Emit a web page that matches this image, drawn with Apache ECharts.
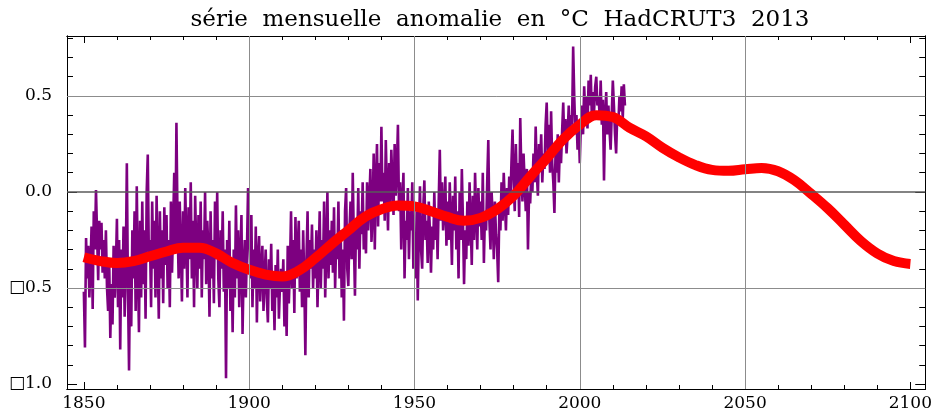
<!DOCTYPE html>
<html>
<head>
<meta charset="utf-8">
<script src="https://cdn.jsdelivr.net/npm/echarts@6/dist/echarts.min.js"></script>
<style>html,body{margin:0;padding:0;background:#fff}#c{width:935px;height:412px}</style>
</head>
<body>
<div id="c"></div>
<script>
// ---- data ----
const titleText = 'série  mensuelle  anomalie  en  °C  HadCRUT3  2013';
const monthlyStartYear = 1850;
const samplesPerYear = 3;
// HadCRUT3 anomaly (°C), 1850 .. 2013, 3 samples per year
const monthlyAnomaly = [
 -0.52,-0.81,-0.24,-0.45,-0.28,-0.55,-0.38,-0.18,-0.61,-0.10,-0.30,0.01,-0.22,-0.46,-0.15,
 -0.30,-0.16,-0.42,-0.25,-0.45,-0.20,-0.50,-0.62,-0.35,-0.76,-0.48,-0.69,-0.28,-0.55,-0.40,
 -0.14,-0.60,-0.25,-0.82,-0.30,-0.55,-0.18,-0.65,-0.40,0.15,-0.50,-0.93,-0.35,-0.70,-0.20,
 -0.45,-0.10,-0.62,0.03,-0.40,-0.73,-0.15,-0.55,-0.05,-0.48,-0.20,-0.66,0.00,0.195,-0.35,
 -0.25,-0.60,-0.05,-0.40,-0.15,-0.55,-0.02,-0.35,-0.66,-0.10,-0.45,-0.20,-0.58,-0.08,-0.38,
 -0.12,-0.50,-0.25,-0.60,-0.05,-0.42,-0.18,0.10,-0.30,0.36,-0.15,-0.45,-0.05,-0.30,-0.57,
 -0.10,-0.40,0.02,-0.25,-0.55,-0.08,-0.35,0.05,-0.45,-0.15,-0.60,-0.02,-0.30,-0.50,-0.12,
 -0.40,-0.05,-0.55,-0.20,-0.35,0.00,-0.48,-0.15,-0.30,-0.65,-0.10,-0.45,-0.25,-0.58,-0.05,
 -0.35,0.00,-0.45,-0.60,-0.20,-0.40,-0.10,-0.52,-0.30,-0.97,-0.25,-0.50,-0.15,-0.62,-0.35,
 -0.73,-0.30,-0.55,-0.07,-0.45,-0.20,-0.60,-0.35,-0.12,-0.74,-0.40,-0.25,-0.55,-0.30,0.02,
 -0.20,-0.45,-0.12,-0.60,-0.30,-0.50,-0.18,-0.68,-0.35,-0.23,-0.57,-0.40,-0.28,-0.62,-0.45,
 -0.30,-0.55,-0.68,-0.35,-0.50,-0.27,-0.62,-0.45,-0.72,-0.38,-0.55,-0.30,-0.66,-0.48,-0.40,
 -0.52,-0.35,-0.70,-0.45,-0.75,-0.28,-0.58,-0.40,-0.10,-0.50,-0.25,-0.63,-0.13,-0.45,-0.30,
 -0.15,-0.52,-0.30,-0.60,-0.20,-0.45,-0.85,-0.35,-0.10,-0.55,-0.25,-0.40,-0.17,-0.50,-0.30,
 -0.45,-0.20,-0.60,-0.35,-0.10,-0.50,-0.25,-0.40,-0.05,-0.55,-0.30,0.00,-0.45,-0.20,-0.38,
 -0.15,-0.42,-0.08,-0.50,-0.25,-0.35,-0.05,-0.45,-0.20,-0.55,-0.30,-0.67,-0.10,0.02,-0.40,
 -0.49,-0.20,-0.05,-0.35,0.10,-0.25,-0.54,-0.15,-0.30,0.02,-0.40,-0.10,-0.22,0.05,-0.30,
 -0.15,-0.32,0.05,-0.20,-0.05,0.12,-0.26,-0.10,0.20,-0.30,0.05,0.25,-0.18,0.15,-0.05,
 0.34,-0.05,0.10,-0.15,0.27,0.00,-0.20,0.15,-0.08,0.22,0.05,-0.12,0.25,-0.02,0.12,
 0.35,-0.10,0.05,-0.30,-0.05,0.10,-0.45,-0.15,-0.25,0.02,-0.35,-0.10,-0.20,0.05,-0.40,
 -0.25,-0.45,-0.10,-0.565,-0.20,0.03,-0.30,-0.40,-0.08,0.06,-0.25,-0.15,-0.37,-0.05,-0.20,
 -0.42,-0.18,-0.30,0.00,-0.25,-0.10,-0.35,-0.05,0.22,-0.15,0.05,-0.20,-0.10,0.08,-0.28,
 -0.05,-0.25,0.05,-0.15,-0.38,-0.02,-0.20,0.08,-0.30,-0.10,-0.45,0.00,-0.25,0.12,-0.15,
 -0.48,-0.20,-0.35,-0.05,-0.28,0.05,-0.15,-0.38,-0.02,-0.25,0.10,-0.12,-0.30,0.02,-0.18,
 -0.05,-0.25,0.10,-0.37,-0.10,-0.20,0.05,0.27,-0.15,-0.30,0.00,-0.12,-0.35,-0.05,-0.22,
 -0.30,-0.47,-0.10,-0.20,0.05,-0.15,0.10,-0.05,-0.20,0.02,-0.12,0.08,-0.05,0.15,0.325,
 0.05,-0.10,0.25,0.00,0.15,-0.13,0.385,0.10,-0.05,0.20,0.05,-0.10,0.12,-0.30,0.00,
 -0.06,0.10,0.00,0.20,0.05,0.34,0.10,-0.02,0.25,0.15,0.30,0.05,0.20,0.12,0.35,
 0.466,0.20,0.35,0.10,0.42,0.15,0.05,-0.11,0.20,0.10,0.30,0.05,0.25,0.15,0.32,
 0.466,0.25,0.38,0.20,0.30,0.45,0.28,0.40,0.35,0.757,0.50,0.30,0.40,0.22,0.35,
 0.15,0.35,0.45,0.30,0.55,0.40,0.50,0.33,0.58,0.45,0.61,0.38,0.52,0.42,0.55,
 0.60,0.45,0.50,0.40,0.58,0.35,0.48,0.06,0.40,0.52,0.30,0.45,0.32,0.22,0.40,
 0.58,0.45,0.30,0.20,0.40,0.35,0.50,0.42,0.55,0.38,0.56,0.45
];
// smooth fit / projection (red curve), 1850 .. 2100
const smoothYears = [1850,1855,1860,1865,1870,1875,1880,1885,1890,1895,1900,1905,1910,1915,1920,1925,1930,1935,1940,1945,1950,1955,1960,1965,1970,1975,1980,1985,1990,1995,2000,2005,2010,2015,2020,2025,2030,2035,2040,2045,2050,2055,2060,2065,2070,2075,2080,2085,2090,2095,2100];
const smoothValues = [-0.34,-0.36,-0.37,-0.36,-0.335,-0.31,-0.29,-0.29,-0.32,-0.37,-0.405,-0.43,-0.44,-0.41,-0.345,-0.27,-0.20,-0.13,-0.09,-0.07,-0.075,-0.10,-0.13,-0.15,-0.135,-0.09,-0.02,0.08,0.175,0.275,0.35,0.40,0.39,0.335,0.29,0.23,0.18,0.14,0.115,0.11,0.118,0.125,0.108,0.06,-0.01,-0.085,-0.17,-0.255,-0.32,-0.36,-0.375];
// axis ticks
const xMajorTicks = [1850,1900,1950,2000,2050,2100];
const xMinorTicks = [1850,1860,1870,1880,1890,1900,1910,1920,1930,1940,1950,1960,1970,1980,1990,2000,2010,2020,2030,2040,2050,2060,2070,2080,2090,2100];
const yMajorTicks = [-1.0,-0.5,0.0,0.5];
const yTickLabels = ['\u25A11.0','\u25A10.5','0.0','0.5'];
const yMinorTicks = [-1.0,-0.9,-0.8,-0.7,-0.6,-0.5,-0.4,-0.3,-0.2,-0.1,0.0,0.1,0.2,0.3,0.4,0.5,0.6,0.7,0.8];
const xGridLines = [1900,1950,2000,2050];
const yGridLines = [0.5,-0.5];
const yZeroLine = 0.0;

// ---- chart ----
const X_MIN = 1844.9, X_MAX = 2104.5, Y_MIN = -1.026, Y_MAX = 0.812;
const serif = 'DejaVu Serif';
const purpleData = monthlyAnomaly.map((v, i) => [monthlyStartYear + i / samplesPerYear, v]);
const redData = smoothYears.map((y, i) => [y, smoothValues[i]]);

function xAx(pos, ticks, len, labels) {
  return {
    type: 'value', position: pos, min: X_MIN, max: X_MAX,
    axisLine: {show: true, onZero: false, lineStyle: {color: '#000', width: 1}},
    axisTick: {show: true, inside: true, length: len, customValues: ticks, lineStyle: {color: '#000', width: 1}},
    axisLabel: labels ? {show: true, customValues: xMajorTicks, formatter: v => String(Math.round(v)),
      fontFamily: serif, fontSize: 17, color: '#000', margin: 6} : {show: false},
    splitLine: {show: false}
  };
}
function yAx(pos, ticks, len, labels) {
  return {
    type: 'value', position: pos, min: Y_MIN, max: Y_MAX,
    axisLine: {show: true, onZero: false, lineStyle: {color: '#000', width: 1}},
    axisTick: {show: true, inside: true, length: len, customValues: ticks, lineStyle: {color: '#000', width: 1}},
    axisLabel: labels ? {show: true, customValues: yMajorTicks,
      formatter: v => { const k = yMajorTicks.findIndex(t => Math.abs(t - v) < 1e-6); return k >= 0 ? yTickLabels[k] : ''; },
      fontFamily: serif, fontSize: 17, color: '#000', margin: 15} : {show: false},
    splitLine: {show: false}
  };
}

const chart = echarts.init(document.getElementById('c'), null, {renderer: 'canvas'});
chart.setOption({
  animation: false,
  backgroundColor: '#fff',
  title: {
    text: titleText, left: 500, top: 9, textAlign: 'center', padding: 0,
    textStyle: {fontFamily: serif, fontSize: 23, fontWeight: 'normal', color: '#000'}
  },
  grid: {left: 67, right: 3, top: 36, bottom: 21, containLabel: false},
  xAxis: [
    xAx('bottom', xMinorTicks, 4, true),
    xAx('bottom', xMajorTicks, 7, false),
    xAx('top', xMinorTicks, 4, false),
    xAx('top', xMajorTicks, 7, false)
  ],
  yAxis: [
    yAx('left', yMinorTicks, 6, true),
    yAx('left', yMajorTicks, 10, false),
    yAx('right', yMinorTicks, 6, false),
    yAx('right', yMajorTicks, 10, false)
  ],
  series: [
    {
      type: 'line', data: [], z: 1, silent: true,
      markLine: {
        silent: true, symbol: 'none', animation: false, label: {show: false},
        data: [
          ...xGridLines.map(v => ({xAxis: v, lineStyle: {color: '#8c8c8c', width: 1, type: 'solid'}})),
          ...yGridLines.map(v => ({yAxis: v, lineStyle: {color: '#8c8c8c', width: 1, type: 'solid'}})),
          {yAxis: yZeroLine, lineStyle: {color: '#5a5a5a', width: 1.6, type: 'solid'}}
        ]
      }
    },
    {
      type: 'line', data: purpleData, z: 2, showSymbol: false, silent: true,
      lineStyle: {color: '#7d0080', width: 2.6, join: 'bevel'}
    },
    {
      type: 'line', data: redData, z: 3, showSymbol: false, silent: true, smooth: 0.4,
      lineStyle: {color: '#ff0000', width: 10}
    }
  ]
});
</script>
</body>
</html>
